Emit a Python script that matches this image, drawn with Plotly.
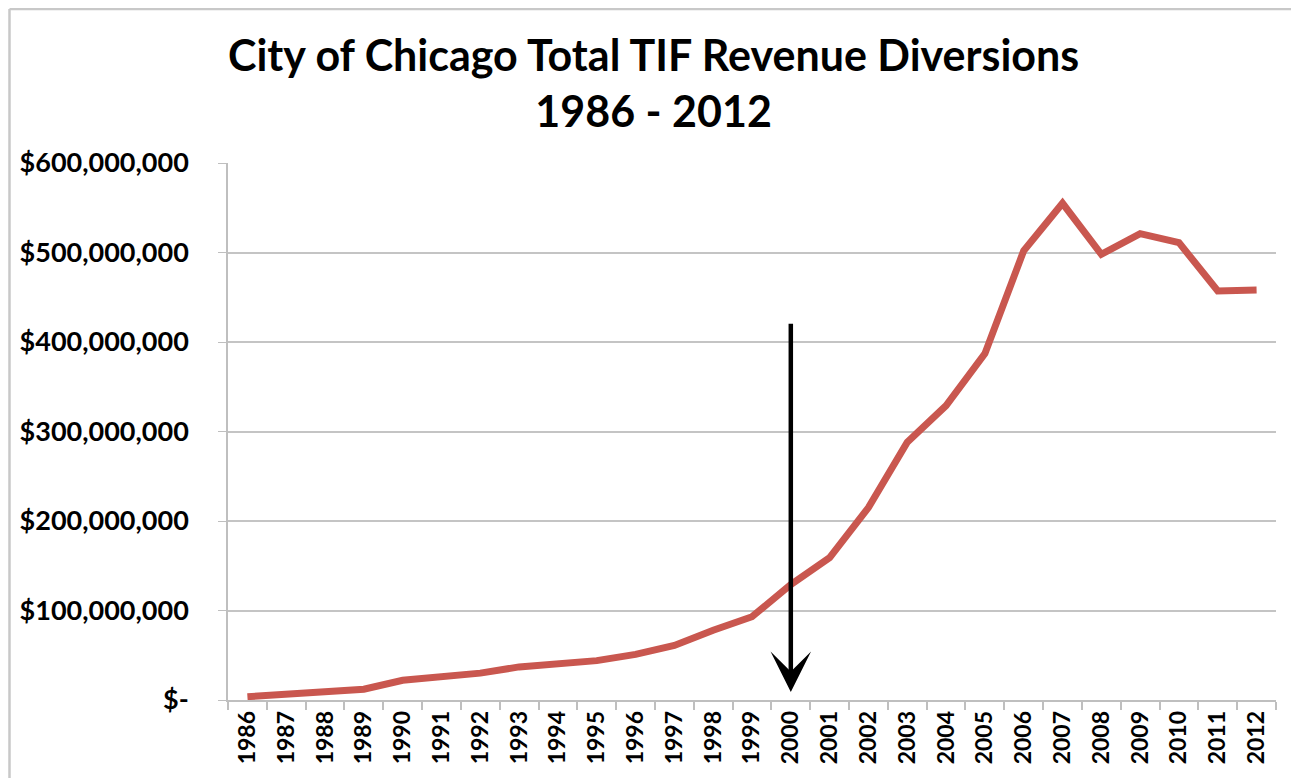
import plotly.graph_objects as go

# datos
years = [str(y) for y in range(1986, 2013)]
revenue = [3.7e6, 6.3e6, 8e6, 12e6, 22e6, 26e6, 30e6, 37e6, 41e6, 44e6,
           51e6, 61e6, 78e6, 93e6, 129e6, 159e6, 215e6, 288e6, 329e6, 387e6,
           502e6, 555e6, 498e6, 521e6, 511e6, 457e6, 458e6]

y_ticks = [0, 100e6, 200e6, 300e6, 400e6, 500e6, 600e6]
y_labels = ["$-", "$100,000,000", "$200,000,000", "$300,000,000",
            "$400,000,000", "$500,000,000", "$600,000,000"]

arrow_year = "2000"
arrow_top = 422e6
arrow_tip = 9e6

fig = go.Figure()
fig.add_trace(go.Scatter(
    x=years, y=revenue, mode="lines",
    line=dict(color="#C9574F", width=7),
    hoverinfo="x+y",
))

# la pagina tiene 8px de margen en el body, por eso todo va corrido
fig.update_layout(
    width=1299, height=778,
    margin=dict(l=220, r=31, t=155, b=86),
    paper_bgcolor="white", plot_bgcolor="white",
    showlegend=False,
    font=dict(family="Lato", color="black"),
    title=dict(
        text="<b>City of Chicago Total TIF Revenue Diversions<br>1986 - 2012</b>",
        x=0.497, xanchor="center", xref="container",
        y=0.919, yanchor="middle",
        font=dict(family="Lato", size=43, color="black"),
    ),
)

fig.update_xaxes(
    type="category",
    range=[-0.5, len(years) - 0.5],
    tickson="boundaries",
    ticks="outside", ticklen=8, tickcolor="#BFBFBF", tickwidth=1.5,
    showline=True, linecolor="#BFBFBF", linewidth=1.5,
    showgrid=False,
    tickangle=-90,
    tickfont=dict(family="Lato", size=23, color="black", weight="bold"),
)
fig.update_yaxes(
    range=[0, 600e6],
    tickvals=y_ticks, ticktext=y_labels,
    showgrid=True, gridcolor="#C4C4C4", gridwidth=1.5,
    showline=True, linecolor="#BFBFBF", linewidth=1.5,
    ticks="outside", ticklen=8, tickcolor="#BFBFBF",
    ticklabelstandoff=24,
    zeroline=False,
    tickfont=dict(family="Lato", size=27, color="black", weight="bold"),
)

# flecha (en eje de categorias x y ax van como indice)
idx = years.index(arrow_year)
fig.add_annotation(
    x=idx, y=arrow_tip, ax=idx, ay=arrow_top,
    xref="x", yref="y", axref="x", ayref="y",
    showarrow=True, arrowhead=3, arrowsize=1.5, arrowwidth=4.5,
    arrowcolor="black", text="",
)

# borde del area del grafico
fig.add_shape(type="line", xref="paper", yref="paper",
              x0=-0.2085, x1=1.05, y0=1.2868, y1=1.2868,
              line=dict(color="#C8C8C8", width=2.5))
fig.add_shape(type="line", xref="paper", yref="paper",
              x0=-0.2085, x1=-0.2085, y0=1.2868, y1=-0.18,
              line=dict(color="#C8C8C8", width=2.5))

fig.write_html("out.html")
